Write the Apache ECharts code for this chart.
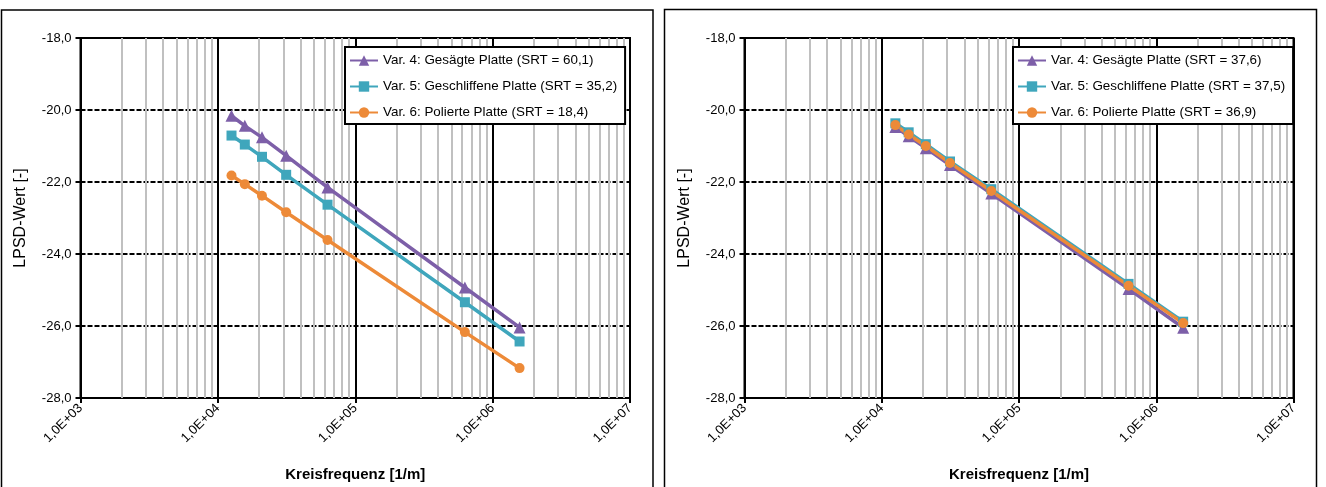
<!DOCTYPE html>
<html>
<head>
<meta charset="utf-8">
<script src="https://cdn.jsdelivr.net/npm/echarts@6/dist/echarts.min.js"></script>
<style>
html,body{margin:0;padding:0;background:#fff;}
#c{width:1326px;height:487px;}
</style>
</head>
<body>
<div id="c"></div>
<script>
// ---- data ----
const freq = [12566, 15708, 20944, 31416, 62832, 628319, 1570796];

const leftNames = [
  'Var. 4: Gesägte Platte (SRT = 60,1)',
  'Var. 5: Geschliffene Platte (SRT = 35,2)',
  'Var. 6: Polierte Platte (SRT = 18,4)'
];
const leftVar4 = [-20.16, -20.44, -20.76, -21.27, -22.15, -24.93, -26.04];
const leftVar5 = [-20.71, -20.96, -21.30, -21.80, -22.63, -25.34, -26.43];
const leftVar6 = [-21.82, -22.06, -22.38, -22.84, -23.61, -26.17, -27.17];

const rightNames = [
  'Var. 4: Gesägte Platte (SRT = 37,6)',
  'Var. 5: Geschliffene Platte (SRT = 37,5)',
  'Var. 6: Polierte Platte (SRT = 36,9)'
];
const rightVar4 = [-20.47, -20.73, -21.06, -21.53, -22.32, -24.97, -26.05];
const rightVar5 = [-20.37, -20.62, -20.95, -21.43, -22.20, -24.83, -25.88];
const rightVar6 = [-20.42, -20.68, -21.00, -21.47, -22.25, -24.88, -25.92];

const xTickValues = [1e3, 1e4, 1e5, 1e6, 1e7];
const xTickLabels = ['1,0E+03', '1,0E+04', '1,0E+05', '1,0E+06', '1,0E+07'];
const yTickValues = [-28, -26, -24, -22, -20, -18];
const yTickLabels = ['-28,0', '-26,0', '-24,0', '-22,0', '-20,0', '-18,0'];

const xName = 'Kreisfrequenz [1/m]';
const yName = 'LPSD-Wert [-]';

// ---- styling ----
const colors = ['#7d5fa8', '#3fa6bc', '#ed8a38'];
const symbols = ['triangle', 'rect', 'circle'];
const symbolSizes = [12, 10, 10];
const FONT = '"Liberation Sans", Arial, sans-serif';

// minor grid positions (2..9 within each decade)
const minorX = [];
for (let d = 0; d < 4; d++) {
  for (let m = 2; m <= 9; m++) minorX.push(m * xTickValues[d]);
}

function zip(xs, ys) { return xs.map((x, i) => [x, ys[i]]); }

const chart = echarts.init(document.getElementById('c'), null, {renderer: 'canvas'});

const grids = [
  {left: 80.5, top: 38, width: 549.5, height: 360},
  {left: 744.5, top: 38, width: 549, height: 360}
];

function xAxisFor(i) {
  return {
    type: 'log', logBase: 10, min: 1e3, max: 1e7, splitNumber: 4,
    gridIndex: i, z: 3,
    name: xName, nameLocation: 'middle', nameGap: 69,
    nameTextStyle: {fontFamily: FONT, fontSize: 15, fontWeight: 'bold', color: '#000'},
    axisLine: {show: true, lineStyle: {color: '#000', width: 2}},
    axisTick: {show: true, length: 5, lineStyle: {color: '#000', width: 2}},
    axisLabel: {
      rotate: 45, margin: 8, fontFamily: FONT, fontSize: 13, color: '#000',
      formatter: v => {
        const idx = xTickValues.findIndex(t => Math.abs(Math.log10(t) - Math.log10(v)) < 1e-6);
        return idx >= 0 ? xTickLabels[idx] : '';
      }
    },
    splitLine: {show: true, lineStyle: {color: '#000', width: 2, type: 'solid'}},
    minorTick: {show: false}, minorSplitLine: {show: false}
  };
}
function yAxisFor(i) {
  return {
    type: 'value', min: -28, max: -18, interval: 2, gridIndex: i, z: 3,
    name: yName, nameLocation: 'middle', nameGap: 52,
    nameTextStyle: {fontFamily: FONT, fontSize: 16, color: '#000'},
    axisLine: {show: true, lineStyle: {color: '#000', width: 2}},
    axisTick: {show: true, length: 5, lineStyle: {color: '#000', width: 2}},
    axisLabel: {
      margin: 9, fontFamily: FONT, fontSize: 13, color: '#000',
      formatter: v => {
        const idx = yTickValues.findIndex(t => Math.abs(t - v) < 1e-6);
        return idx >= 0 ? yTickLabels[idx] : '';
      }
    },
    splitLine: {show: true, lineStyle: {color: '#000', width: 2, type: [5, 2]}}
  };
}

function minorSeries(i) {
  return {
    type: 'line', name: 'minor' + i, data: [], xAxisIndex: i, yAxisIndex: i, z: 1,
    silent: true,
    markLine: {
      silent: true, symbol: ['none', 'none'], animation: false,
      label: {show: false},
      lineStyle: {color: '#c0c0c0', width: 2, type: 'solid'},
      emphasis: {disabled: true},
      data: minorX.map(v => ({xAxis: v}))
    }
  };
}

function dataSeries(name, vals, k, i) {
  return {
    type: 'line', name: name, data: zip(freq, vals),
    xAxisIndex: i, yAxisIndex: i, z: 5,
    symbol: symbols[k], symbolSize: symbolSizes[k], showAllSymbol: true,
    lineStyle: {color: colors[k], width: 3.5},
    itemStyle: {color: colors[k]},
    emphasis: {disabled: true}
  };
}

function legendFor(i, names, left) {
  return {
    show: true, data: names, orient: 'vertical', z: 50,
    left: left, top: 47,
    padding: [7, 8, 5, 4], itemGap: 13,
    itemWidth: 28, itemHeight: 13,
    backgroundColor: '#fff', borderColor: '#000', borderWidth: 2,
    textStyle: {fontFamily: FONT, fontSize: 13.4, color: '#000'},
    selectedMode: false
  };
}

const option = {
  animation: false,
  backgroundColor: '#fff',
  grid: grids.map(g => Object.assign({show: true, borderColor: '#000', borderWidth: 2, backgroundColor: 'transparent', z: 0}, g)),
  xAxis: [xAxisFor(0), xAxisFor(1)],
  yAxis: [yAxisFor(0), yAxisFor(1)],
  legend: [legendFor(0, leftNames, 345), legendFor(1, rightNames, 1013)],
  series: [
    minorSeries(0), minorSeries(1),
    dataSeries(leftNames[0], leftVar4, 0, 0),
    dataSeries(leftNames[1], leftVar5, 1, 0),
    dataSeries(leftNames[2], leftVar6, 2, 0),
    dataSeries(rightNames[0], rightVar4, 0, 1),
    dataSeries(rightNames[1], rightVar5, 1, 1),
    dataSeries(rightNames[2], rightVar6, 2, 1)
  ],
  graphic: [
    {type: 'rect', shape: {x: 1.5, y: 10, width: 651.5, height: 478}, style: {fill: 'none', stroke: '#000', lineWidth: 1.5}, silent: true, z: 100},
    {type: 'rect', shape: {x: 664.5, y: 9.5, width: 652, height: 479}, style: {fill: 'none', stroke: '#000', lineWidth: 1.5}, silent: true, z: 100}
  ]
};
chart.setOption(option);
</script>
</body>
</html>
